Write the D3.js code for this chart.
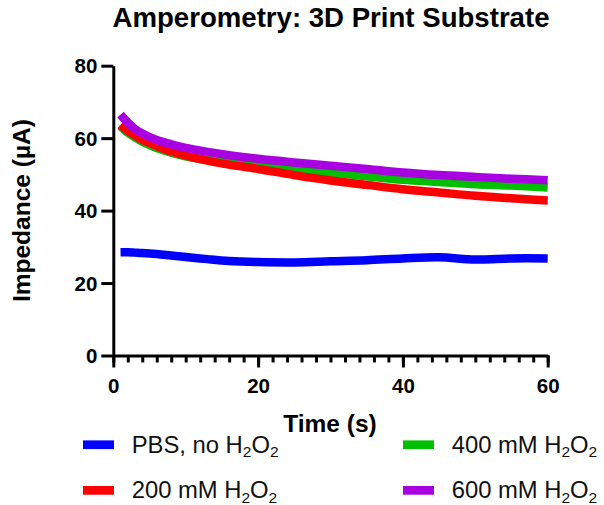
<!DOCTYPE html>
<html>
<head>
<meta charset="utf-8">
<script src="https://cdn.jsdelivr.net/npm/d3@7"></script>
<style>
  html, body { margin: 0; padding: 0; background: #fff; }
  svg { display: block; font-family: "Liberation Sans", Arial, sans-serif; }
</style>
</head>
<body>
<svg id="chart" width="604" height="505"></svg>
<script>
// ---- data ----
const times = [1, 2, 3, 4, 6, 8, 10, 13, 16, 20, 25, 30, 35, 40, 45, 50, 55, 60];
const pbs   = [28.5, 28.5, 28.4, 28.3, 28.0, 27.6, 27.2, 26.6, 26.1, 25.8, 25.7, 26.0, 26.3, 26.8, 27.1, 26.5, 26.8, 26.8];
const mM200 = [63.7, 62.0, 60.7, 59.5, 57.8, 56.3, 55.2, 53.8, 52.7, 51.5, 49.8, 48.3, 47.1, 45.9, 45.0, 44.1, 43.4, 42.8];
const mM400 = [63.3, 61.5, 60.2, 59.0, 57.3, 56.0, 55.0, 54.0, 53.3, 52.5, 51.3, 50.5, 49.5, 48.5, 47.9, 47.3, 46.9, 46.4];
const mM600 = [66.5, 64.3, 62.5, 61.3, 59.5, 58.3, 57.3, 56.2, 55.3, 54.3, 53.3, 52.4, 51.5, 50.5, 49.8, 49.3, 48.8, 48.4];
const xTicks = [0, 20, 40, 60];
const xMinorTicks = d3.range(0, 61, 2);
const yTicks = [0, 20, 40, 60, 80];
const seriesNames = ["PBS, no H2O2", "200 mM H2O2", "400 mM H2O2", "600 mM H2O2"];
const seriesColors = ["#0000ff", "#ff0000", "#00bf00", "#a800e0"];
const seriesValues = [pbs, mM200, mM400, mM600];
const drawOrder = [0, 2, 1, 3];

// ---- layout ----
const svg = d3.select("#chart");
const x = d3.scaleLinear().domain([0, 60]).range([113.3, 547.7]);
const y = d3.scaleLinear().domain([0, 80]).range([355.5, 65.7]);

// title
svg.append("text")
  .attr("x", 331).attr("y", 27)
  .attr("text-anchor", "middle")
  .attr("font-size", 27.6).attr("font-weight", "bold")
  .text("Amperometry: 3D Print Substrate");

// lines
const line = d3.line()
  .x((d, i) => x(times[i]))
  .y(d => y(d))
  .curve(d3.curveCatmullRom.alpha(0.5));

drawOrder.forEach(k => {
  svg.append("path")
    .attr("d", line(seriesValues[k]))
    .attr("fill", "none")
    .attr("stroke", seriesColors[k])
    .attr("stroke-width", 8.5)
    .attr("stroke-linecap", "butt")
    .attr("stroke-linejoin", "round");
});

// x axis minor ticks
const gxMinor = svg.append("g")
  .attr("transform", `translate(0,${y(0)})`)
  .call(d3.axisBottom(x).tickValues(xMinorTicks).tickSize(7).tickSizeOuter(0).tickFormat(""));
gxMinor.select(".domain").remove();
gxMinor.selectAll("line").attr("stroke", "#000").attr("stroke-width", 3);

// x axis
const gx = svg.append("g")
  .attr("transform", `translate(0,${y(0)})`)
  .call(d3.axisBottom(x).tickValues(xTicks).tickSize(12).tickSizeOuter(0));
gx.select(".domain").attr("stroke", "#000").attr("stroke-width", 3);
gx.selectAll(".tick line").attr("stroke", "#000").attr("stroke-width", 3);
gx.selectAll(".tick text")
  .attr("y", 37.8).attr("dy", null)
  .attr("font-size", 20.5).attr("font-weight", "bold")
  .attr("font-family", "'Liberation Sans', Arial, sans-serif")
  .attr("fill", "#000");

// y axis
const gy = svg.append("g")
  .attr("transform", `translate(${x(0)},0)`)
  .call(d3.axisLeft(y).tickValues(yTicks).tickSize(12).tickSizeOuter(0));
gy.select(".domain").attr("stroke", "#000").attr("stroke-width", 3);
gy.selectAll(".tick line").attr("stroke", "#000").attr("stroke-width", 3);
gy.selectAll(".tick text")
  .attr("x", -16).attr("dy", "0.35em")
  .attr("font-size", 20.5).attr("font-weight", "bold")
  .attr("font-family", "'Liberation Sans', Arial, sans-serif")
  .attr("fill", "#000");

// axis titles
svg.append("text")
  .attr("x", 330).attr("y", 432)
  .attr("text-anchor", "middle")
  .attr("font-size", 24.5).attr("font-weight", "bold")
  .text("Time (s)");

svg.append("text")
  .attr("transform", `translate(30,${(y(0) + y(80)) / 2}) rotate(-90)`)
  .attr("text-anchor", "middle")
  .attr("font-size", 24.5).attr("font-weight", "bold")
  .text("Impedance (µA)");

// legend
const legendPos = [
  { sx: 83, tx: 131.7, y: 452.7 },
  { sx: 83, tx: 131.7, y: 498.3 },
  { sx: 403, tx: 451.7, y: 452.7 },
  { sx: 403, tx: 451.7, y: 498.3 }
];
seriesNames.forEach((name, k) => {
  const p = legendPos[k];
  svg.append("rect")
    .attr("x", p.sx).attr("y", p.y - 12.3)
    .attr("width", 31).attr("height", 8.7)
    .attr("fill", seriesColors[k]);
  const t = svg.append("text")
    .attr("x", p.tx).attr("y", p.y)
    .attr("font-size", 23.8).attr("fill", "#111");
  const base = name.replace("H2O2", "");
  t.append("tspan").text(base + "H");
  t.append("tspan").attr("font-size", 15.5).attr("dy", 4.5).text("2");
  t.append("tspan").attr("dy", -4.5).text("O");
  t.append("tspan").attr("font-size", 15.5).attr("dy", 4.5).text("2");
});
</script>
</body>
</html>
